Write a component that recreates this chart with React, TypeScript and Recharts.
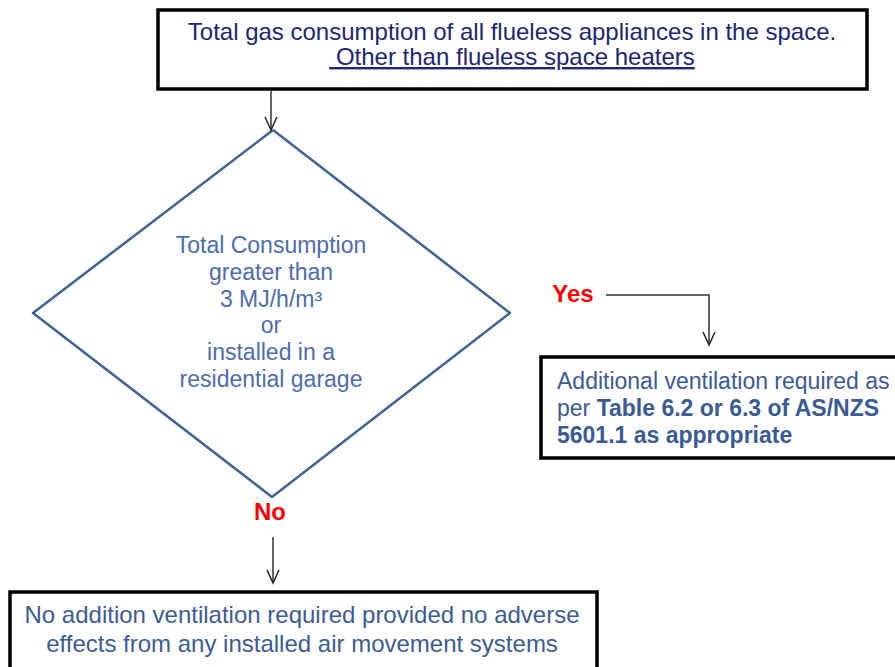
import React from 'react';
import { ComposedChart, XAxis, YAxis, Line, Scatter, ReferenceArea } from 'recharts';

const W = 895;
const H = 667;
const FONT = '"Liberation Sans", Arial, sans-serif';

// text of the flow chart
const startLines = ['Total gas consumption of all flueless appliances in the space.', ' Other than flueless space heaters'];
const decisionLines = ['Total Consumption', 'greater than', '3 MJ/h/m³', 'or', 'installed in a', 'residential garage'];
const yesLines = [
  [{ t: 'Additional ventilation required as' }],
  [{ t: 'per ' }, { t: 'Table 6.2 or 6.3 of AS/NZS', bold: true }],
  [{ t: '5601.1 as appropriate', bold: true }],
];
const noLines = ['No addition ventilation required provided no adverse', 'effects from any installed air movement systems'];
const branchLabels = ['Yes', 'No'];

// layout, in chart units (0..895 across, 0..667 down)
const boxes = [
  { x1: 158, x2: 867, y1: 10, y2: 89 },
  { x1: 541, x2: 910, y1: 357, y2: 458 },
  { x1: 10, x2: 597, y1: 592, y2: 690 },
];
const diamond = [
  { x: 273, y: 130 },
  { x: 510, y: 313 },
  { x: 272, y: 497 },
  { x: 33, y: 313 },
  { x: 273, y: 130 },
];
const flowStart = [{ x: 271, y: 90 }, { x: 271, y: 129 }];
const flowYes = [{ x: 606, y: 295 }, { x: 709, y: 295 }, { x: 709, y: 344 }];
const flowNo = [{ x: 273, y: 537 }, { x: 273, y: 582 }];
const arrowTips = [{ x: 271, y: 130 }, { x: 709, y: 345 }, { x: 273, y: 583 }];

const startY = [40, 65];
const decisionY = [253, 280, 307, 333, 360, 387];
const yesY = [389, 416, 443];
const noY = [623, 652];

type Seg = { t: string; bold?: boolean };
type Label = { x: number; y: number; segs: Seg[]; color: string; size: number; anchor: string; underline?: boolean };

const labels: Label[] = [
  ...startLines.map((t, i) => ({ x: 512, y: startY[i], segs: [{ t }], color: '#1c2672', size: 24, anchor: 'middle', underline: i === 1 })),
  ...decisionLines.map((t, i) => ({ x: 271, y: decisionY[i], segs: [{ t }], color: '#4d6cae', size: 23, anchor: 'middle' })),
  ...yesLines.map((segs, i) => ({ x: 557, y: yesY[i], segs, color: '#3a5a95', size: 23, anchor: 'start' })),
  ...noLines.map((t, i) => ({ x: 302, y: noY[i], segs: [{ t }], color: '#3c5b92', size: 24, anchor: 'middle' })),
  { x: 573, y: 302, segs: [{ t: branchLabels[0], bold: true }], color: '#ff0000', size: 24, anchor: 'middle' },
  { x: 270, y: 520, segs: [{ t: branchLabels[1], bold: true }], color: '#ff0000', size: 24, anchor: 'middle' },
];

const TextShape = (props: any) => {
  const { cx, cy, payload } = props;
  const p = payload as Label;
  return (
    <text
      x={cx}
      y={cy}
      fill={p.color}
      fontSize={p.size}
      fontFamily={FONT}
      textAnchor={p.anchor as any}
      textDecoration={p.underline ? 'underline' : undefined}
      style={{ whiteSpace: 'pre' }}
    >
      {p.segs.map((s, i) => (
        <tspan key={i} fontWeight={s.bold ? 'bold' : 'normal'}>{s.t}</tspan>
      ))}
    </text>
  );
};

const ArrowHead = (props: any) => {
  const { cx, cy } = props;
  return <polyline points={`${cx - 6},${cy - 13} ${cx},${cy} ${cx + 6},${cy - 13}`} fill="none" stroke="#222" strokeWidth={1.5} />;
};

export default function App() {
  return (
    <div style={{ position: 'absolute', left: 0, top: 0, width: W, height: H, background: '#fff' }}>
      <ComposedChart width={W} height={H} margin={{ top: 0, right: 0, bottom: 0, left: 0 }}>
        <XAxis type="number" dataKey="x" domain={[0, W]} hide allowDataOverflow />
        <YAxis type="number" dataKey="y" domain={[0, H]} reversed hide allowDataOverflow />
        {boxes.map((b, i) => (
          <ReferenceArea key={i} x1={b.x1} x2={b.x2} y1={b.y1} y2={b.y2} ifOverflow="visible" fill="none" fillOpacity={0} stroke="#000" strokeWidth={3.5} />
        ))}
        <Line data={diamond} dataKey="y" type="linear" stroke="#3f6391" strokeWidth={2.5} strokeLinejoin="round" dot={false} activeDot={false} isAnimationActive={false} />
        <Line data={flowStart} dataKey="y" type="linear" stroke="#333" strokeWidth={1.5} dot={false} activeDot={false} isAnimationActive={false} />
        <Line data={flowYes} dataKey="y" type="linear" stroke="#333" strokeWidth={1.5} dot={false} activeDot={false} isAnimationActive={false} />
        <Line data={flowNo} dataKey="y" type="linear" stroke="#333" strokeWidth={1.5} dot={false} activeDot={false} isAnimationActive={false} />
        <Scatter data={arrowTips} dataKey="y" shape={ArrowHead} isAnimationActive={false} />
        <Scatter data={labels} dataKey="y" shape={TextShape} isAnimationActive={false} />
      </ComposedChart>
    </div>
  );
}
